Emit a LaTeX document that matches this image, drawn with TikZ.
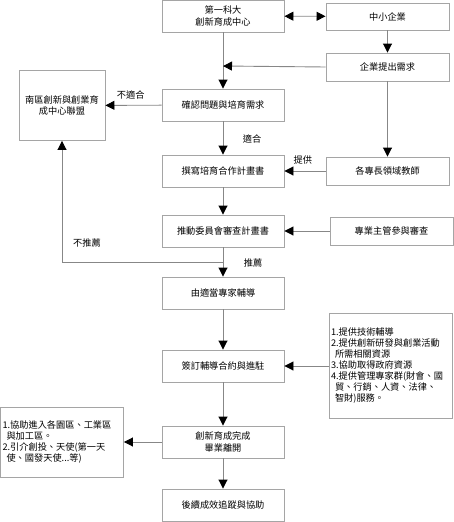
\documentclass[tikz,border=0pt]{standalone}
\usepackage{fontspec}
\setmainfont{Noto Sans CJK TC}
\usetikzlibrary{arrows.meta,positioning}
\definecolor{frame}{RGB}{165,165,165}
\definecolor{wire}{RGB}{135,135,135}
\tikzset{
  >={Triangle[length=9pt,width=9pt,black]},
  box/.style={draw=frame,fill=white,line width=0.9pt,minimum width=122pt,minimum height=32pt,
    align=center,inner sep=1pt,font=\fontsize{9.2}{11.5}\selectfont},
  sidebox/.style={box,minimum width=123pt,minimum height=#1},
  sidebox/.default=28pt,
  listbox/.style 2 args={draw=frame,fill=white,line width=0.9pt,minimum width=123pt,minimum height=#1,
    text width=119pt,align=left,inner sep=1pt,text height=8pt,text depth=#2,
    font=\fontsize{9.2}{11}\selectfont},
  flow/.style={->,draw=wire,line width=0.9pt},
  both/.style={<->,draw=wire,line width=0.9pt},
  tag/.style={font=\fontsize{9.2}{11}\selectfont,inner sep=0pt},
}
\begin{document}
\begin{tikzpicture}[x=1pt,y=-1pt]
  \useasboundingbox (0,0) rectangle (453,522);
  % main column
  \node[box] (kd) at (223,16) {第一科大\\創新育成中心};
  \node[box] (confirm) at (223,105) {確認問題與培育需求};
  \node[box] (write) at (223,171) {撰寫培育合作計畫書};
  \node[box] (review) at (223,231) {推動委員會審查計畫書};
  \node[box] (expert) at (223,293) {由適當專家輔導};
  \node[box] (sign) at (223,366) {簽訂輔導合約與進駐};
  \node[box] (done) at (223,442) {創新育成完成\\畢業離開};
  \node[box] (follow) at (223,505) {後續成效追蹤與協助};
  % right column
  \node[sidebox=27pt] (sme) at (387.5,16.5) {中小企業};
  \node[sidebox] (need) at (387.5,67) {企業提出需求};
  \node[sidebox] (teach) at (387.5,171) {各專長領域教師};
  \node[sidebox] (mgr) at (391.5,231) {專業主管參與審查};
  \node[listbox={105pt}{68.5pt}] (svc) at (390.5,365.5) {1.提供技術輔導\\2.提供創新研發與創業活動\\\hspace*{4pt}所需相關資源\\3.協助取得政府資源\\4.提供管理專家群(財會、國\\\hspace*{4pt}貿、行銷、人資、法律、\\\hspace*{4pt}智財)服務。};
  % left column
  \node[box,minimum width=86pt,minimum height=70pt] (alliance) at (62,105.5) {南區創新與創業育\\成中心聯盟};
  \node[listbox={70pt}{35.5pt}] (exit) at (62,442) {1.協助進入各園區、工業區\\\hspace*{4pt}與加工區。\\2.引介創投、天使(第一天\\\hspace*{4pt}使、國發天使...等)};

  \coordinate (join) at (223,66);
  \coordinate (split) at (223,262);

  \draw[both] (kd) -- (sme);
  \draw[flow] (sme) -- (need);
  \draw[flow] (kd) -- (confirm);
  \draw[flow] (need.west) -- (join);
  \draw[flow] (confirm) -- node[tag,pos=0.55,above=6pt] {不適合} (alliance);
  \draw[flow] (confirm) -- (write);
  \node[tag] (fit) at (252,139) {適合};
  \draw[flow] (need) -- (teach);
  \draw[flow] (teach) -- node[tag,pos=0.55,above=6pt] {提供} (write);
  \draw[flow] (mgr) -- (review);
  \draw[flow] (split) -| (alliance);
  \node[tag] (nofit) at (87,243) {不推薦};
  \node[tag] (rec) at (253,263) {推薦};
  \foreach \a/\b in {write/review,review/expert,expert/sign,sign/done,done/follow}
    \draw[flow] (\a) -- (\b);
  \draw[flow] (svc.west |- sign) -- (sign);
  \draw[flow] (done) -- (exit);
\end{tikzpicture}
\end{document}
